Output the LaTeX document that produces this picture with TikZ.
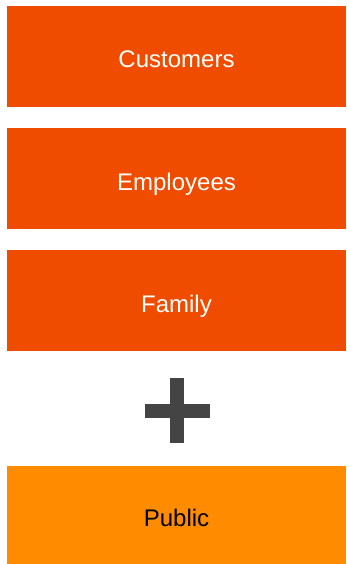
\documentclass[tikz,border=0pt]{standalone}
\usepackage{fontspec}
\setmainfont{Liberation Sans}
\definecolor{redorange}{RGB}{240,76,0}
\definecolor{lightorange}{RGB}{255,140,0}
\definecolor{plusgray}{RGB}{68,68,68}
\begin{document}
\begin{tikzpicture}[
    x=1pt, y=-1pt,
    group/.style={rectangle, fill=redorange, text=white, minimum width=339pt, minimum height=101pt, inner sep=0pt, text height=23pt, text depth=0pt, font=\fontsize{24}{28}\selectfont},
    public/.style={group, fill=lightorange, text=black, minimum height=98pt}
]
\useasboundingbox (0,0) rectangle (346,564);

% Inner groups
\node[group] (customers) at (176.5, 56.5) {Customers};
\node[group] (employees) at (176.5, 178.5) {Employees};
\node[group] (family) at (176.5, 300.5) {Family};

% Plus sign
\fill[plusgray] (170,378) rectangle (184,443);
\fill[plusgray] (145,404) rectangle (210,418);

% Outer group
\node[public] (public) at (176.5, 515) {Public};

\end{tikzpicture}
\end{document}
